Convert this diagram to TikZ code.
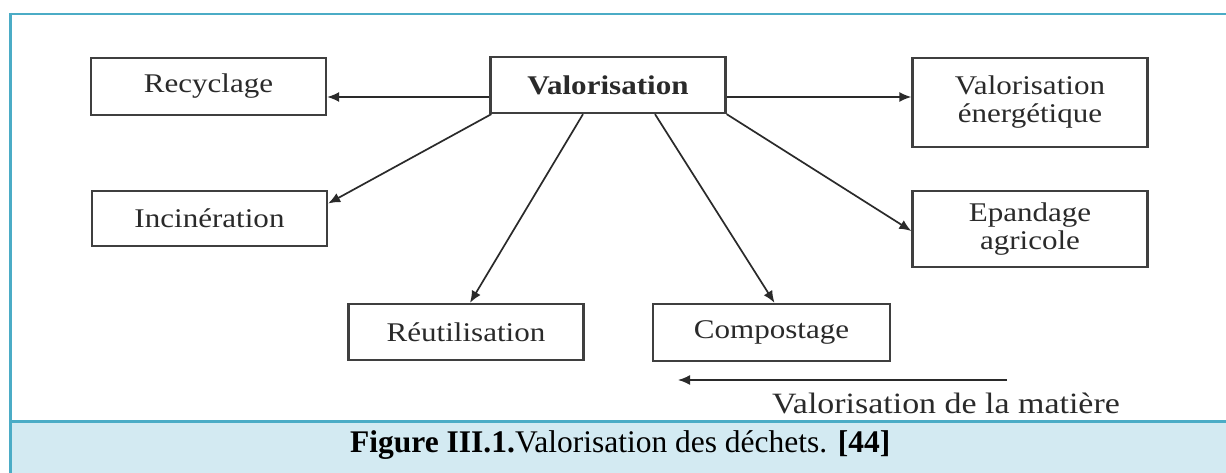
\documentclass[tikz,border=0pt]{standalone}
\usepackage{fontspec}
\setmainfont{Liberation Serif}
\newfontfamily\dg{Liberation Serif}[FakeStretch=1.15]
\usetikzlibrary{arrows.meta}
\definecolor{frame}{HTML}{4BACC6}
\definecolor{capfill}{HTML}{D3EAF2}
\definecolor{ink}{HTML}{2A2A2A}
\tikzset{
  boxnode/.style={draw=ink!90, line width=2.3pt, minimum width=235pt, minimum height=57pt,
    inner sep=0pt, align=center, text=ink, font=\dg\fontsize{27}{28}\selectfont},
  arr/.style={draw=ink, line width=1.7pt, -{Latex[length=12pt,width=10pt]}},
  frameline/.style={draw=frame, line width=3pt}
}
\begin{document}
\begin{tikzpicture}[x=1pt,y=-1pt]
\useasboundingbox (0,0) rectangle (1226,473);
\fill[white] (0,0) rectangle (1226,473);
% caption band
\fill[capfill] (10,421) rectangle (1226,473);
\draw[frameline] (9,421) -- (1226,421);
\draw[draw=frame, line width=2.5pt] (9,14) -- (1226,14);
\draw[frameline] (10.5,12.8) -- (10.5,473);
% boxes
\node[boxnode] (rec) at (208.5,86.5) {Recyclage};
\node[boxnode, minimum height=56pt, font=\dg\fontsize{27}{28}\selectfont\bfseries] (val) at (608,85) {Valorisation};
\node[boxnode, minimum height=89pt] (ener) at (1030,102.5) {Valorisation\\énergétique};
\node[boxnode, minimum height=55pt] (inc) at (209.5,218.5) {Incinération};
\node[boxnode, minimum height=76pt] (epa) at (1030,229) {Epandage\\agricole};
\node[boxnode, minimum height=56pt] (reu) at (466,332) {Réutilisation};
\node[boxnode, minimum height=57pt, minimum width=237pt] (comp) at (771.5,332.5) {Compostage};
% arrows
\coordinate (vl) at ([yshift=-12pt]val.west);
\coordinate (vr) at ([yshift=-12pt]val.east);
\draw[arr] (vl) -- (vl -| rec.east);
\draw[arr] (vr) -- (vr -| ener.west);
\draw[arr] ([xshift=2pt]val.south west) -- ([yshift=15pt]inc.east);
\draw[arr] ([xshift=-25pt]val.south) -- ([xshift=4pt]reu.north);
\draw[arr] ([xshift=47pt]val.south) -- ([xshift=3pt]comp.north);
\draw[arr] (val.south east) -- ([yshift=-2pt]epa.west);
% matter arrow
\coordinate (ms) at (1007,380);
\coordinate (me) at (678,380);
\draw[arr] (ms) -- (me);
\node[anchor=base west, inner sep=0pt, text=ink, font=\dg\fontsize{29.5}{30}\selectfont] (mat) at (772,413) {Valorisation de la matière};
% caption
\node[anchor=base west, inner sep=0pt, font=\fontsize{31.5}{32}\selectfont] (cap) at (350,452) {\textbf{Figure III.1.}Valorisation des déchets. \textbf{[44]}};
\end{tikzpicture}
\end{document}
